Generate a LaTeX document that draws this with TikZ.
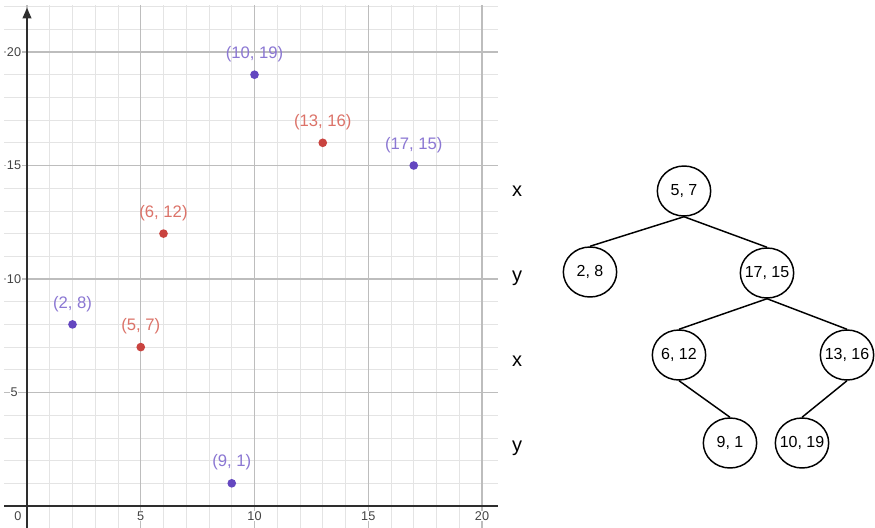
\documentclass[tikz,border=0pt]{standalone}
\usepackage{fontspec}
\setmainfont{Liberation Sans}
\usetikzlibrary{shapes.geometric,arrows.meta}
\definecolor{minorgrid}{HTML}{E4E4E4}
\definecolor{majorgrid}{HTML}{BDBDBD}
\definecolor{axiscol}{HTML}{2E2E2E}
\definecolor{dotpurple}{HTML}{6447C0}
\definecolor{labpurple}{HTML}{8B77D3}
\definecolor{dotred}{HTML}{C9433F}
\definecolor{labred}{HTML}{DC7369}
\newcommand{\zb}[1]{\makebox[0pt]{#1}}
\tikzset{
  minorline/.style={draw=minorgrid, line width=0.6pt},
  majorline/.style={draw=majorgrid, line width=0.9pt},
  axisline/.style={draw=axiscol, line width=1.5pt},
  ticklab/.style={font=\fontsize{9.5}{10}\selectfont, text=axiscol!90, inner sep=0.5pt, fill=white},
  pdot/.style={circle, inner sep=0pt, minimum size=6.5pt},
  ptlab/.style={font=\fontsize{12.5}{14}\selectfont, inner sep=0pt, yshift=15.5pt},
  treenode/.style={ellipse, draw=black, line width=1.1pt, minimum width=40pt, minimum height=37.5pt, inner sep=0pt, font=\fontsize{12}{14}\selectfont},
  treeedge/.style={draw=black, line width=1.1pt},
  levellab/.style={font=\fontsize{15}{17}\selectfont, anchor=base, inner sep=0pt}
}
\begin{document}
\begin{tikzpicture}[x=0.75pt, y=-0.75pt]
\useasboundingbox[fill=white] (0,0) rectangle (875,528);
% ---------- plot ----------
\begin{scope}[shift={(27,506)}, x=17.0625pt, y=17.025pt]
  \draw[minorline] (-0.99,-0.97) grid[step=1] (20.7,22.05);
  \draw[majorline] (-0.99,-0.97) grid[step=5] (20.7,22.05);
  \draw[axisline] (-0.99,0) -- (20.7,0);
  \draw[axisline, -{Triangle[length=8pt,width=6.5pt]}] (0,-0.97) -- (0,21.95);
  % tick labels
  \node[ticklab] (ty20) at (-0.57,20) {20};
  \node[ticklab] (ty15) at (-0.57,15) {15};
  \node[ticklab] (ty10) at (-0.57,10) {10};
  \node[ticklab] (ty5) at (-0.57,5) {5};
  \node[ticklab] (tx0) at (-0.4,-0.45) {0};
  \node[ticklab] (tx5) at (5,-0.45) {5};
  \node[ticklab] (tx10) at (10,-0.45) {10};
  \node[ticklab] (tx15) at (15,-0.45) {15};
  \node[ticklab] (tx20) at (20,-0.45) {20};
  % points
  \node[pdot, fill=dotpurple] (p1019) at (10,19) {};
  \node[pdot, fill=dotred] (p1316) at (13,16) {};
  \node[pdot, fill=dotpurple] (p1715) at (17,15) {};
  \node[pdot, fill=dotred] (p612) at (6,12) {};
  \node[pdot, fill=dotpurple] (p28) at (2,8) {};
  \node[pdot, fill=dotred] (p57) at (5,7) {};
  \node[pdot, fill=dotpurple] (p91) at (9,1) {};
  \node[ptlab, text=labpurple] (l1019) at (p1019) {(10, 19)};
  \node[ptlab, text=labred] (l1316) at (p1316) {(13, 16)};
  \node[ptlab, text=labpurple] (l1715) at (p1715) {(17, 15)};
  \node[ptlab, text=labred] (l612) at (p612) {(6, 12)};
  \node[ptlab, text=labpurple] (l28) at (p28) {(2, 8)};
  \node[ptlab, text=labred] (l57) at (p57) {(5, 7)};
  \node[ptlab, text=labpurple] (l91) at (p91) {(9, 1)};
\end{scope}
% ---------- tree ----------
\node[levellab] (lv1) at (517,196) {x};
\node[levellab] (lv2) at (517,281) {y};
\node[levellab] (lv3) at (517,366) {x};
\node[levellab] (lv4) at (517,451) {y};
\node[treenode] (n57) at (684,191) {\zb{5, 7}};
\node[treenode] (n28) at (590,272) {\zb{2, 8}};
\node[treenode] (n1715) at (767,273) {\zb{17, 15}};
\node[treenode] (n612) at (679,355) {\zb{6, 12}};
\node[treenode] (n1316) at (847,355) {\zb{13, 16}};
\node[treenode] (n91) at (730,443) {\zb{9, 1}};
\node[treenode] (n1019) at (802,443) {\zb{10, 19}};
\draw[treeedge] (n57.south) -- (n28.north);
\draw[treeedge] (n57.south) -- (n1715.north);
\draw[treeedge] (n1715.south) -- (n612.north);
\draw[treeedge] (n1715.south) -- (n1316.north);
\draw[treeedge] (n612.south) -- (n91.north);
\draw[treeedge] (n1316.south) -- (n1019.north);
\end{tikzpicture}
\end{document}
